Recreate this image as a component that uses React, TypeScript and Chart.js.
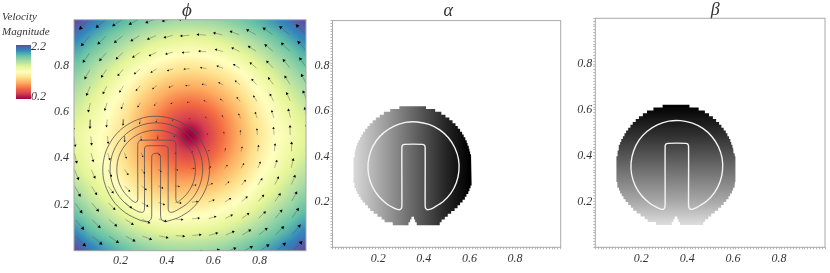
import React, { useEffect, useRef } from "react";
import { Chart, registerables } from "chart.js";

Chart.register(...registerables);

// ---- chart texts ----
const panelTitles = ["ϕ", "α", "β"];
const legendTitleLines = ["Velocity", "Magnitude"];
const legendRangeLabels = ["2.2", "0.2"];

// ---- velocity magnitude, rows from y=1 down to y=0, columns x=0..1 ----
const heatRows = [
  [2.22, 2.08, 1.95, 1.84, 1.75, 1.68, 1.64, 1.63, 1.64, 1.68, 1.75, 1.84, 1.95, 2.08, 2.22],
  [2.05, 1.91, 1.78, 1.67, 1.57, 1.49, 1.44, 1.42, 1.44, 1.49, 1.57, 1.67, 1.78, 1.91, 2.05],
  [1.88, 1.75, 1.63, 1.5, 1.39, 1.3, 1.24, 1.22, 1.24, 1.3, 1.39, 1.5, 1.63, 1.75, 1.88],
  [1.74, 1.61, 1.48, 1.35, 1.22, 1.11, 1.04, 1.01, 1.04, 1.11, 1.22, 1.35, 1.48, 1.61, 1.74],
  [1.62, 1.5, 1.36, 1.22, 1.06, 0.93, 0.84, 0.81, 0.84, 0.93, 1.06, 1.22, 1.36, 1.5, 1.62],
  [1.52, 1.4, 1.26, 1.11, 0.93, 0.78, 0.66, 0.61, 0.66, 0.78, 0.93, 1.11, 1.26, 1.4, 1.52],
  [1.44, 1.33, 1.2, 1.04, 0.84, 0.66, 0.49, 0.4, 0.49, 0.66, 0.84, 1.04, 1.2, 1.33, 1.44],
  [1.37, 1.27, 1.15, 1.0, 0.8, 0.6, 0.4, 0.2, 0.4, 0.61, 0.81, 1.01, 1.17, 1.29, 1.4],
  [1.4, 1.29, 1.16, 1.0, 0.81, 0.64, 0.48, 0.4, 0.49, 0.66, 0.84, 1.04, 1.2, 1.33, 1.44],
  [1.46, 1.33, 1.2, 1.05, 0.88, 0.74, 0.64, 0.61, 0.66, 0.78, 0.93, 1.11, 1.26, 1.4, 1.52],
  [1.55, 1.43, 1.29, 1.15, 1.0, 0.88, 0.81, 0.81, 0.84, 0.93, 1.06, 1.22, 1.36, 1.5, 1.62],
  [1.68, 1.54, 1.41, 1.28, 1.15, 1.05, 1.0, 1.01, 1.04, 1.11, 1.22, 1.35, 1.48, 1.61, 1.74],
  [1.83, 1.69, 1.56, 1.43, 1.32, 1.24, 1.21, 1.22, 1.24, 1.3, 1.39, 1.5, 1.63, 1.75, 1.88],
  [2.02, 1.86, 1.74, 1.62, 1.52, 1.45, 1.42, 1.42, 1.44, 1.49, 1.57, 1.67, 1.78, 1.91, 2.05],
  [2.22, 2.05, 1.92, 1.81, 1.72, 1.66, 1.63, 1.63, 1.64, 1.68, 1.75, 1.84, 1.95, 2.08, 2.22],
];
const heatMin = 0.2;
const heatMax = 2.2;
const spectral = ["#9e0142", "#d53e4f", "#f46d43", "#fdae61", "#fee08b", "#ffffbf", "#e6f598", "#abdda4", "#66c2a5", "#3288bd", "#5e4fa2"];

// ---- arrows: the tilted lattice of arrow heads (data units) and the vectors on it ----
const arrowOrigin = [0.0289, 0.9637];
const arrowStepCol = [0.0713, 0.00627];
const arrowStepRow = [0.00668, -0.0717];
const arrowUnit = 1 / 232;
const arrowU = [
  [-8.2, -8.3, -8.4, -8.5, -8.7, -8.8, -8.9, -9, -9.1, -9.2, -9.3, -9.4, -9.6, -9.7, -9.8],
  [-6.9, -7, -7.1, -7.2, -7.4, -7.5, -7.6, -7.7, -7.8, -7.9, -8, -8.1, -8.3, -8.4, -8.5],
  [-5.7, -5.8, -5.9, -6, -6.2, -6.3, -6.4, -6.5, -6.6, -6.7, -6.8, -6.9, -7.1, -7.2, -7.3],
  [-4.4, -4.5, -4.6, -4.7, -4.9, -5, -5.1, -5.2, -5.3, -5.4, -5.5, -5.6, -5.8, -5.9, -6],
  [-3.1, -3.2, -3.3, -3.4, -3.6, -3.7, -3.8, -3.9, -4, -4.1, -4.2, -4.3, -4.5, -4.6, -4.7],
  [-1.8, -1.9, -2, -2.1, -2.3, -2.4, -2.5, -2.6, -2.7, -2.8, -2.9, -3, -3.2, -3.3, -3.4],
  [-0.5, -0.6, -0.7, -0.8, -1, -1.1, -1.2, -1.3, -1.4, -1.5, -1.6, -1.7, -1.9, -2, -2.1],
  [0.8, 0.7, 0.6, 0.5, 0.3, 0.2, 0.1, 0, -0.1, -0.2, -0.3, -0.4, -0.6, -0.7, -0.8],
  [2.1, 2, 1.9, 1.8, 1.6, 1.5, 1.4, 1.3, 1.2, 1.1, 1, 0.9, 0.7, 0.6, 0.5],
  [3.4, 3.3, 3.2, 3.1, 2.9, 2.8, 2.7, 2.6, 2.5, 2.4, 2.3, 2.2, 2, 1.9, 1.8],
  [4.7, 4.6, 4.5, 4.4, 4.2, 4.1, 4, 3.9, 3.8, 3.7, 3.6, 3.5, 3.3, 3.2, 3.1],
  [6, 5.9, 5.8, 5.7, 5.5, 5.4, 5.3, 5.2, 5.1, 5, 4.9, 4.8, 4.6, 4.5, 4.4],
  [7.2, 7.1, 7, 6.9, 6.7, 6.6, 6.5, 6.4, 6.3, 6.2, 6.1, 6, 5.8, 5.7, 5.6],
  [8.5, 8.4, 8.3, 8.2, 8, 7.9, 7.8, 7.7, 7.6, 7.5, 7.4, 7.3, 7.1, 7, 6.9],
  [9.8, 9.7, 9.6, 9.5, 9.3, 9.2, 9.1, 9, 8.9, 8.8, 8.7, 8.6, 8.4, 8.3, 8.2],
];
const arrowV = [
  [-9.8, -8.5, -7.2, -5.9, -4.6, -3.4, -2.1, -0.8, 0.5, 1.8, 3.1, 4.4, 5.6, 6.9, 8.2],
  [-9.6, -8.4, -7.1, -5.8, -4.5, -3.2, -2, -0.7, 0.6, 1.9, 3.2, 4.5, 5.8, 7, 8.3],
  [-9.5, -8.2, -7, -5.7, -4.4, -3.1, -1.8, -0.5, 0.7, 2, 3.3, 4.6, 5.9, 7.2, 8.4],
  [-9.4, -8.1, -6.8, -5.5, -4.2, -3, -1.7, -0.4, 0.9, 2.1, 3.4, 4.7, 6, 7.3, 8.6],
  [-9.3, -8, -6.7, -5.4, -4.1, -2.9, -1.6, -0.3, 1, 2.3, 3.5, 4.8, 6.1, 7.4, 8.7],
  [-9.2, -7.9, -6.6, -5.3, -4, -2.8, -1.5, -0.2, 1.1, 2.4, 3.7, 5, 6.2, 7.5, 8.8],
  [-9, -7.8, -6.5, -5.2, -3.9, -2.6, -1.3, -0.1, 1.2, 2.5, 3.8, 5.1, 6.4, 7.6, 8.9],
  [-8.9, -7.6, -6.4, -5.1, -3.8, -2.5, -1.2, 0.1, 1.3, 2.6, 3.9, 5.2, 6.5, 7.8, 9],
  [-8.8, -7.5, -6.2, -4.9, -3.6, -2.4, -1.1, 0.2, 1.5, 2.7, 4, 5.3, 6.6, 7.9, 9.2],
  [-8.7, -7.4, -6.1, -4.8, -3.5, -2.3, -1, 0.3, 1.6, 2.9, 4.1, 5.4, 6.7, 8, 9.3],
  [-8.6, -7.3, -6, -4.7, -3.4, -2.2, -0.9, 0.4, 1.7, 3, 4.3, 5.6, 6.8, 8.1, 9.4],
  [-8.4, -7.2, -5.9, -4.6, -3.3, -2, -0.7, 0.5, 1.8, 3.1, 4.4, 5.7, 7, 8.2, 9.5],
  [-8.3, -7, -5.8, -4.5, -3.2, -1.9, -0.6, 0.7, 1.9, 3.2, 4.5, 5.8, 7.1, 8.4, 9.6],
  [-8.2, -6.9, -5.6, -4.3, -3, -1.8, -0.5, 0.8, 2.1, 3.3, 4.6, 5.9, 7.2, 8.5, 9.8],
  [-8.1, -6.8, -5.5, -4.2, -2.9, -1.7, -0.4, 0.9, 2.2, 3.5, 4.7, 6, 7.3, 8.6, 9.9],
];

// ---- interface contours (x, y pairs in data units) ----
const contourOuter = [
  [0.394, 0.125], [0.451, 0.144], [0.502, 0.176], [0.542, 0.22], [0.57, 0.273], [0.583, 0.332], [0.581, 0.392], [0.562, 0.449], [0.53, 0.5], [0.486, 0.54], [0.433, 0.568], [0.374, 0.581], [0.314, 0.579], [0.257, 0.56], [0.206, 0.528], [0.166, 0.484], [0.138, 0.431], [0.125, 0.372], [0.127, 0.312], [0.146, 0.255], [0.178, 0.204], [0.222, 0.164], [0.275, 0.136], [0.314, 0.125],
  [0.326, 0.13], [0.333, 0.14], [0.335, 0.155], [0.335, 0.405], [0.338, 0.416], [0.346, 0.421], [0.362, 0.421], [0.37, 0.416], [0.373, 0.405], [0.373, 0.155], [0.375, 0.14], [0.382, 0.13], [0.394, 0.125],
];
const contourMiddle = [
  [0.44, 0.173], [0.484, 0.201], [0.519, 0.239], [0.543, 0.286], [0.554, 0.337], [0.552, 0.389], [0.536, 0.439], [0.508, 0.483], [0.47, 0.518], [0.423, 0.542], [0.372, 0.553], [0.32, 0.551], [0.27, 0.535], [0.226, 0.507], [0.191, 0.469], [0.167, 0.422], [0.156, 0.371], [0.158, 0.319], [0.174, 0.269], [0.202, 0.225], [0.24, 0.19], [0.27, 0.173], [0.285, 0.167],
  [0.295, 0.166], [0.302, 0.172], [0.304, 0.185], [0.304, 0.44], [0.307, 0.45], [0.316, 0.454], [0.394, 0.454], [0.403, 0.45], [0.406, 0.44], [0.406, 0.185], [0.408, 0.172], [0.415, 0.166], [0.425, 0.167], [0.44, 0.173],
];
const contourInner = [
  [0.452, 0.213], [0.484, 0.243], [0.508, 0.28], [0.521, 0.322], [0.523, 0.367], [0.514, 0.41], [0.493, 0.45], [0.463, 0.482], [0.426, 0.506], [0.384, 0.519], [0.339, 0.521], [0.296, 0.512], [0.256, 0.491], [0.224, 0.461], [0.2, 0.424], [0.187, 0.382], [0.185, 0.337], [0.194, 0.294], [0.215, 0.254], [0.245, 0.222], [0.256, 0.213],
  [0.266, 0.209], [0.273, 0.215], [0.275, 0.225], [0.275, 0.46], [0.279, 0.473], [0.29, 0.478], [0.424, 0.478], [0.435, 0.473], [0.439, 0.46], [0.439, 0.225], [0.441, 0.215], [0.447, 0.209], [0.452, 0.213],
];

// ---- phase-field mask: one [left, right] span per row, from the bottom row upward ----
const maskBottom = 0.0975;
const maskRowHeight = 0.0125;
const maskSpans = [
  [0.264, 0.47], [0.228, 0.478], [0.215, 0.492], [0.197, 0.505], [0.18, 0.52], [0.165, 0.535], [0.155, 0.548], [0.143, 0.559], [0.132, 0.57], [0.123, 0.58], [0.115, 0.587], [0.108, 0.595], [0.103, 0.6], [0.098, 0.605], [0.095, 0.608], [0.092, 0.61],
  [0.092, 0.61], [0.092, 0.61], [0.092, 0.61], [0.092, 0.61], [0.092, 0.61], [0.092, 0.61], [0.092, 0.61], [0.092, 0.61],
  [0.095, 0.607], [0.098, 0.603], [0.1, 0.6], [0.103, 0.597], [0.108, 0.592], [0.113, 0.588], [0.12, 0.582], [0.127, 0.575], [0.134, 0.568], [0.143, 0.559], [0.153, 0.549], [0.163, 0.539], [0.176, 0.526], [0.19, 0.512], [0.207, 0.495], [0.225, 0.477], [0.253, 0.45], [0.293, 0.41],
];
const maskNotch = [[0.333, 0.369], [0.34, 0.362], [0.346, 0.357]];

// grey ramps: position along the gradient axis, and grey
const alphaRamp = [[0.09, "#dadada"], [0.2, "#ababab"], [0.35, "#686868"], [0.5, "#242424"], [0.6, "#000000"]];
const betaRamp = [[0.1, "#dcdcdc"], [0.2, "#a8a8a8"], [0.36, "#666666"], [0.5, "#2c2c2c"], [0.62, "#000000"]];

const SERIF = "'Liberation Serif', 'Times New Roman', serif";
const TEXT = "#333333";

function hexRgb(h: string) {
  return [parseInt(h.slice(1, 3), 16), parseInt(h.slice(3, 5), 16), parseInt(h.slice(5, 7), 16)];
}
const spectralRgb = spectral.map(hexRgb);

function colourAt(v: number) {
  const t = Math.min(0.9999, Math.max(0, (v - heatMin) / (heatMax - heatMin))) * (spectralRgb.length - 1);
  const i = Math.floor(t);
  const f = t - i;
  const a = spectralRgb[i];
  const b = spectralRgb[i + 1];
  return [a[0] + (b[0] - a[0]) * f, a[1] + (b[1] - a[1]) * f, a[2] + (b[2] - a[2]) * f];
}

function cubic(p0: number, p1: number, p2: number, p3: number, t: number) {
  return 0.5 * (2 * p1 + (p2 - p0) * t + (2 * p0 - 5 * p1 + 4 * p2 - p3) * t * t + (3 * p1 - p0 - 3 * p2 + p3) * t * t * t);
}

function sampleHeat(x: number, y: number) {
  const n = heatRows.length - 1;
  const gx = Math.min(n - 1e-6, Math.max(0, x * n));
  const gy = Math.min(n - 1e-6, Math.max(0, (1 - y) * n));
  const ix = Math.floor(gx);
  const iy = Math.floor(gy);
  const row = (r: number) => {
    const line = heatRows[Math.min(n, Math.max(0, r))];
    const at = (c: number) => line[Math.min(n, Math.max(0, c))];
    return cubic(at(ix - 1), at(ix), at(ix + 1), at(ix + 2), gx - ix);
  };
  return cubic(row(iy - 1), row(iy), row(iy + 1), row(iy + 2), gy - iy);
}

const heatPlugin = {
  id: "heat",
  beforeDatasetsDraw(chart: any) {
    const { ctx, chartArea: a, scales } = chart;
    const l = Math.round(a.left);
    const t = Math.round(a.top);
    const w = Math.round(a.right) - l;
    const h = Math.round(a.bottom) - t;
    const off = document.createElement("canvas");
    off.width = w;
    off.height = h;
    const octx = off.getContext("2d")!;
    const img = octx.createImageData(w, h);
    for (let py = 0; py < h; py++) {
      const yv = scales.y.getValueForPixel(t + py + 0.5);
      for (let px = 0; px < w; px++) {
        const xv = scales.x.getValueForPixel(l + px + 0.5);
        const c = colourAt(sampleHeat(xv, yv));
        const o = (py * w + px) * 4;
        img.data[o] = c[0];
        img.data[o + 1] = c[1];
        img.data[o + 2] = c[2];
        img.data[o + 3] = 255;
      }
    }
    octx.putImageData(img, 0, 0);
    ctx.drawImage(off, l, t);
  },
};

const legendPlugin = {
  id: "velocityLegend",
  afterDraw(chart: any) {
    const { ctx } = chart;
    const bar = { left: 16, top: 45, width: 15, height: 54 };
    const g = ctx.createLinearGradient(0, bar.top + bar.height, 0, bar.top);
    spectral.forEach((c, i) => g.addColorStop(i / (spectral.length - 1), c));
    ctx.save();
    ctx.fillStyle = g;
    ctx.fillRect(bar.left, bar.top, bar.width, bar.height);
    ctx.fillStyle = TEXT;
    ctx.font = `italic 11px ${SERIF}`;
    ctx.textBaseline = "middle";
    ctx.textAlign = "left";
    ctx.fillText(legendTitleLines[0], 2, 17);
    ctx.fillText(legendTitleLines[1], 2, 32);
    ctx.font = `italic 12px ${SERIF}`;
    ctx.fillText(legendRangeLabels[0], 31, 47);
    ctx.fillText(legendRangeLabels[1], 31, 97);
    ctx.restore();
  },
};

const framePlugin = {
  id: "frame",
  afterDatasetsDraw(chart: any) {
    const { ctx, chartArea: a } = chart;
    ctx.save();
    ctx.strokeStyle = "#a9a9a9";
    ctx.lineWidth = 1;
    ctx.strokeRect(a.left, a.top, a.right - a.left, a.bottom - a.top);
    ctx.restore();
  },
};

// nudges the panel title sideways from the centre of its plot
const titleShift = (dx: number) => ({
  id: "titleShift",
  afterLayout(chart: any) {
    if (chart.titleBlock) {
      chart.titleBlock.left += dx;
      chart.titleBlock.right += dx;
    }
  },
});

const pts = (list: number[][]) => list.map(([x, y]) => ({ x, y }));

function maskOutline() {
  const out: { x: number; y: number }[] = [];
  const rowY = (k: number) => maskBottom + maskRowHeight * k;
  for (let k = maskSpans.length - 1; k >= 0; k--) {
    out.push({ x: maskSpans[k][1], y: rowY(k + 1) }, { x: maskSpans[k][1], y: rowY(k) });
  }
  maskNotch.forEach(([, r], k) => out.push({ x: r, y: rowY(k) }, { x: r, y: rowY(k + 1) }));
  for (let k = maskNotch.length - 1; k >= 0; k--) {
    out.push({ x: maskNotch[k][0], y: rowY(k + 1) }, { x: maskNotch[k][0], y: rowY(k) });
  }
  for (let k = 0; k < maskSpans.length; k++) {
    out.push({ x: maskSpans[k][0], y: rowY(k) }, { x: maskSpans[k][0], y: rowY(k + 1) });
  }
  return out;
}

function arrowData() {
  const lines: any[] = [];
  const heads: any[] = [];
  arrowU.forEach((row, j) => {
    row.forEach((u, c) => {
      const i = c - 1;
      const v = arrowV[j][c];
      const hx = arrowOrigin[0] + arrowStepCol[0] * i + arrowStepRow[0] * j;
      const hy = arrowOrigin[1] + arrowStepCol[1] * i + arrowStepRow[1] * j;
      const len = Math.hypot(u, v);
      lines.push({ x: hx - u * arrowUnit, y: hy - v * arrowUnit }, { x: hx, y: hy }, { x: null, y: null });
      heads.push({ x: hx, y: hy, rot: (Math.atan2(u, v) * 180) / Math.PI, size: Math.min(2.5, 0.4 + len * 0.16) });
    });
  });
  return { lines, heads };
}

const rampFill = (ramp: (number | string)[][], axis: "x" | "y") => (c: any) => {
  const chart = c.chart;
  if (!chart.chartArea || !chart.scales[axis]) return "#666666";
  const sc = chart.scales[axis];
  const p0 = sc.getPixelForValue(ramp[0][0]);
  const p1 = sc.getPixelForValue(ramp[ramp.length - 1][0]);
  const g = axis === "x" ? chart.ctx.createLinearGradient(p0, 0, p1, 0) : chart.ctx.createLinearGradient(0, p0, 0, p1);
  const a = ramp[0][0] as number;
  const b = ramp[ramp.length - 1][0] as number;
  ramp.forEach(([pos, col]) => g.addColorStop(((pos as number) - a) / (b - a), col));
  return g;
};

const tickText = (v: any) => {
  const n = Number(v);
  if (n < 0.01 || n > 0.99) return "";
  return Math.abs(n * 5 - Math.round(n * 5)) < 1e-6 ? n.toFixed(1) : "";
};

function axis(showTicks: boolean, fit: (s: any) => void, padding: number) {
  return {
    type: "linear",
    min: 0,
    max: 1,
    afterFit: fit,
    border: { display: false },
    grid: { display: showTicks, drawOnChartArea: false, tickLength: 2, tickWidth: 0.7, tickColor: "#9a9a9a" },
    ticks: { stepSize: 0.0125, autoSkip: false, maxRotation: 0, minRotation: 0, padding, color: TEXT, font: { family: SERIF, style: "italic", size: 12 }, callback: tickText },
  };
}

function options(p: { title: string; titleSize: number; titlePad: any; top: number; right: number; yw: number; xh: number; ticks: boolean; padX: number; padY: number }) {
  return {
    responsive: false,
    animation: false,
    parsing: true,
    events: [],
    layout: { autoPadding: false, padding: { left: 0, right: p.right, top: p.top, bottom: 0 } },
    plugins: {
      legend: { display: false },
      tooltip: { enabled: false },
      title: { display: true, fullSize: false, text: p.title, color: TEXT, padding: p.titlePad, font: { family: SERIF, style: "italic", weight: "normal", size: p.titleSize, lineHeight: 1 } },
    },
    scales: {
      x: axis(p.ticks, (s: any) => { s.height = p.xh; }, p.padX),
      y: axis(p.ticks, (s: any) => { s.width = p.yw; }, p.padY),
    },
  };
}

export default function App() {
  const a = useRef<HTMLCanvasElement>(null);
  const b = useRef<HTMLCanvasElement>(null);
  const c = useRef<HTMLCanvasElement>(null);

  useEffect(() => {
    const { lines, heads } = arrowData();
    const outline = maskOutline();
    const contourLine = (data: any, color: string, width: number, order: number) => ({
      data, showLine: true, borderColor: color, borderWidth: width, pointRadius: 0, fill: false, tension: 0.3, order,
    });
    const charts = [
      new Chart(a.current!, {
        type: "scatter",
        data: {
          datasets: [
            { data: heads, showLine: false, pointStyle: "triangle", backgroundColor: "#000000", borderWidth: 0, pointRadius: (x: any) => x.raw?.size ?? 0, rotation: (x: any) => x.raw?.rot ?? 0, order: 1 },
            { data: lines, showLine: true, spanGaps: false, borderColor: "rgba(80,80,80,0.6)", borderWidth: 0.7, pointRadius: 0, order: 2 },
            contourLine(pts(contourOuter), "#505050", 0.8, 3),
            contourLine(pts(contourMiddle), "#505050", 0.8, 3),
            contourLine(pts(contourInner), "#505050", 0.8, 3),
          ],
        } as any,
        options: options({ title: panelTitles[0], titleSize: 19, titlePad: { top: 1, bottom: -1 }, top: 0.7, right: 4, yw: 74, xh: 22.3, ticks: false, padX: 1, padY: 3 }) as any,
        plugins: [titleShift(-3), heatPlugin, framePlugin, legendPlugin],
      }),
      new Chart(b.current!, {
        type: "scatter",
        data: {
          datasets: [
            contourLine(pts(contourMiddle), "#f4f4f4", 1.4, 1),
            { data: outline, showLine: true, borderWidth: 0, borderColor: "rgba(0,0,0,0)", pointRadius: 0, fill: "shape", tension: 0, backgroundColor: rampFill(alphaRamp, "x"), order: 2 },
          ],
        } as any,
        options: options({ title: panelTitles[1], titleSize: 18, titlePad: 0, top: 2.6, right: 9.3, yw: 22.5, xh: 25.7, ticks: true, padX: 2, padY: 1 }) as any,
        plugins: [titleShift(1.5), framePlugin],
      }),
      new Chart(c.current!, {
        type: "scatter",
        data: {
          datasets: [
            contourLine(pts(contourMiddle), "#f4f4f4", 1.4, 1),
            { data: outline, showLine: true, borderWidth: 0, borderColor: "rgba(0,0,0,0)", pointRadius: 0, fill: "shape", tension: 0, backgroundColor: rampFill(betaRamp, "y"), order: 2 },
          ],
        } as any,
        options: options({ title: panelTitles[2], titleSize: 18, titlePad: { top: 1, bottom: -1 }, top: 0.3, right: 5, yw: 25.3, xh: 25.7, ticks: true, padX: 2, padY: 1 }) as any,
        plugins: [titleShift(5), framePlugin],
      }),
    ];
    return () => charts.forEach((ch) => ch.destroy());
  }, []);

  const holder: React.CSSProperties = { position: "fixed", left: 0, top: 0, width: 830, height: 273, overflow: "hidden", background: "#ffffff" };
  const cv = (left: number, width: number): React.CSSProperties => ({ position: "absolute", left, top: 0, width, height: 273, display: "block" });
  return (
    <div style={holder}>
      <canvas ref={a} width={310} height={273} style={cv(0, 310)} />
      <canvas ref={b} width={260} height={273} style={cv(310, 260)} />
      <canvas ref={c} width={260} height={273} style={cv(570, 260)} />
    </div>
  );
}
